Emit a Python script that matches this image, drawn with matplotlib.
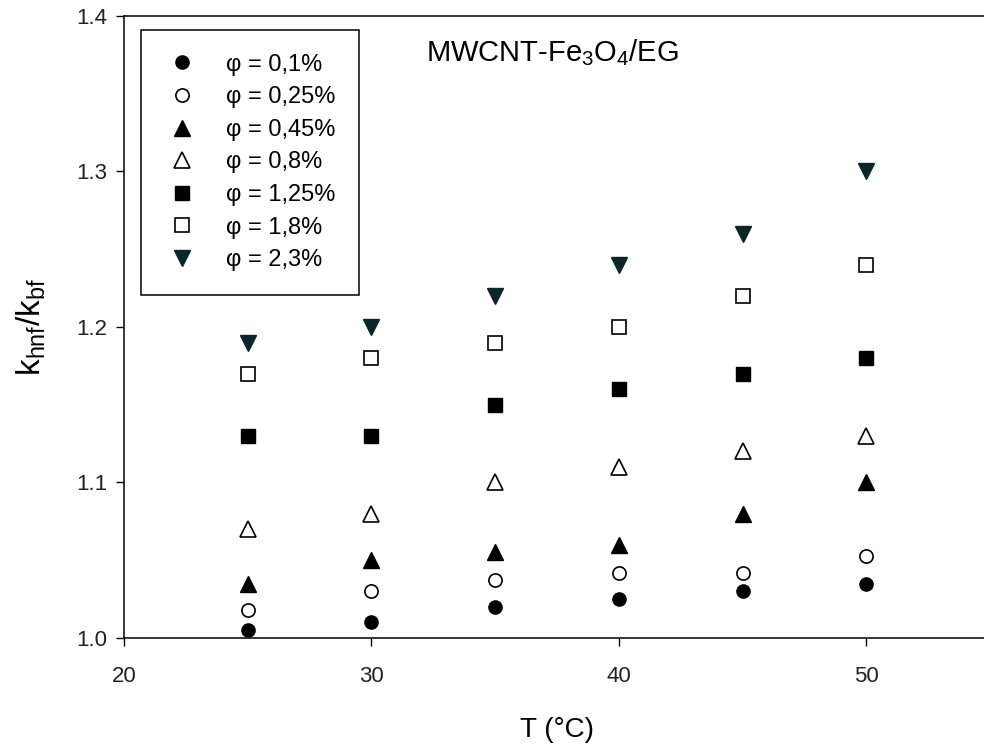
import matplotlib
matplotlib.use("Agg")
import matplotlib.pyplot as plt

plt.rcParams['font.family'] = ['Liberation Sans', 'DejaVu Sans']
plt.rcParams['mathtext.fontset'] = 'custom'
plt.rcParams['mathtext.rm'] = 'Liberation Sans'
plt.rcParams['mathtext.it'] = 'Liberation Sans'

# temperature (°C)
T = [25, 30, 35, 40, 45, 50]

# thermal conductivity ratio k_hnf/k_bf per volume fraction
k_01 = [1.005, 1.010, 1.020, 1.025, 1.030, 1.035]
k_025 = [1.018, 1.030, 1.037, 1.042, 1.042, 1.053]
k_045 = [1.035, 1.050, 1.055, 1.060, 1.080, 1.100]
k_08 = [1.070, 1.080, 1.100, 1.110, 1.120, 1.130]
k_125 = [1.130, 1.130, 1.150, 1.160, 1.170, 1.180]
k_18 = [1.170, 1.180, 1.190, 1.200, 1.220, 1.240]
k_23 = [1.190, 1.200, 1.220, 1.240, 1.260, 1.300]

labels = ["φ = 0,1%", "φ = 0,25%", "φ = 0,45%", "φ = 0,8%",
          "φ = 1,25%", "φ = 1,8%", "φ = 2,3%"]

fig = plt.figure(figsize=(9.84, 7.47), dpi=100)
ax = fig.add_axes([124 / 984, 109 / 747, 866 / 984, 622 / 747])

mew = 1.2
ax.plot(T, k_01, 'o', ms=9.5, mfc='black', mec='black', label=labels[0])
ax.plot(T, k_025, 'o', ms=9.5, mfc='white', mec='black', mew=mew, label=labels[1])
ax.plot(T, k_045, '^', ms=11, mfc='black', mec='black', label=labels[2])
ax.plot(T, k_08, '^', ms=11, mfc='white', mec='black', mew=mew, label=labels[3])
ax.plot(T, k_125, 's', ms=10, mfc='black', mec='black', label=labels[4])
ax.plot(T, k_18, 's', ms=10, mfc='white', mec='black', mew=mew, label=labels[5])
ax.plot(T, k_23, 'v', ms=11, mfc='#0b2626', mec='#0b2626', label=labels[6])

ax.set_xlim(20, 55)
ax.set_ylim(1.0, 1.4)
ax.set_xticks([20, 30, 40, 50])
ax.set_yticks([1.0, 1.1, 1.2, 1.3, 1.4])
ax.set_yticklabels(["1.0", "1.1", "1.2", "1.3", "1.4"])
ax.tick_params(direction='out', length=6, width=1, labelsize=16,
               labelcolor='#222222', pad=6)
ax.tick_params(axis='x', pad=14)
ax.spines['right'].set_visible(False)
for s in ['left', 'bottom', 'top']:
    ax.spines[s].set_linewidth(1.1)

ax.set_xlabel("T (°C)", fontsize=20, labelpad=22)
ax.set_ylabel(r"k$_{\mathregular{hnf}}$/k$_{\mathregular{bf}}$", fontsize=24, labelpad=20)

ax.text(0.349, 0.966, r"MWCNT-Fe$_{\mathregular{3}}$O$_{\mathregular{4}}$/EG",
        transform=ax.transAxes, fontsize=21, va='top', ha='left')

leg = ax.legend(loc='upper left', bbox_to_anchor=(17 / 866, 1 - 14 / 622),
                fontsize=17, frameon=True, fancybox=False, framealpha=1,
                edgecolor='black', borderpad=1.0, labelspacing=0.45,
                handlelength=1.5, handletextpad=1.1, borderaxespad=0,
                numpoints=1)
leg.get_frame().set_linewidth(1.1)

fig.savefig("out.png", dpi=100)
